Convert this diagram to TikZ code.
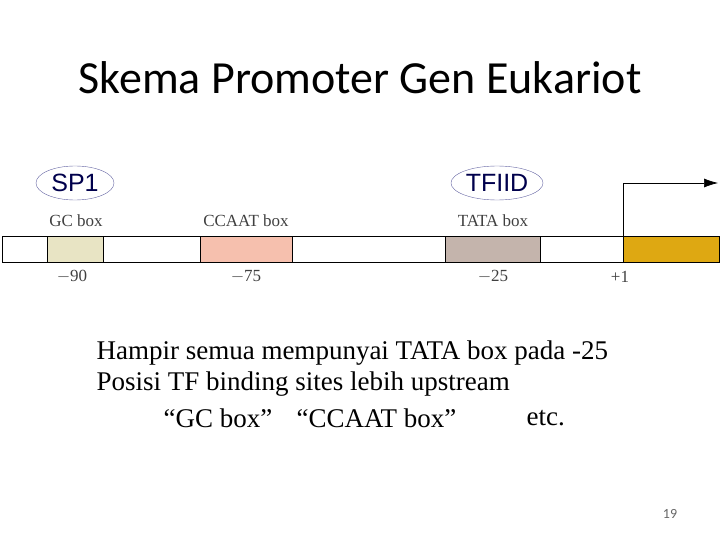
\documentclass[tikz,border=0pt]{standalone}
\usepackage{fontspec}
\usetikzlibrary{shapes.geometric,arrows.meta}
\setmainfont{Liberation Serif}
\newfontfamily\calib{Carlito}
\newfontfamily\arial{Liberation Sans}
\begin{document}
\begin{tikzpicture}[x=1pt,y=-1pt,
  seg/.style={draw=black,line width=0.8pt},
  lbl/.style={font=\fontsize{17}{20}\selectfont\color{black!75}},
  tf/.style={draw=blue!40!black!60,ellipse,inner sep=0pt,font=\arial\fontsize{25}{30}\selectfont\color{blue!30!black}},
  body/.style={anchor=west,font=\fontsize{27}{32}\selectfont}]
\useasboundingbox (0,0) rectangle (720,540);
\node[font=\calib\fontsize{46}{54}\selectfont] (title) at (360,78) {Skema Promoter Gen Eukariot};
\draw[seg,fill=white] (2,236) rectangle (719,262);
\draw[seg,fill={rgb,255:red,232;green,228;blue,196}] (47,236) rectangle (103,262);
\draw[seg,fill={rgb,255:red,246;green,192;blue,174}] (200,236) rectangle (292,262);
\draw[seg,fill={rgb,255:red,196;green,180;blue,172}] (445,236) rectangle (540,262);
\draw[seg,fill={rgb,255:red,222;green,168;blue,18}] (623,236) rectangle (719,262);
\coordinate (s) at (623,236); \coordinate (e) at (718,183);
\draw[line width=0.7pt,-{Latex[length=14pt,width=9pt]}] (s) |- (e);
\node[lbl] (gc) at (76,221) {GC box};
\node[lbl] (cc) at (246,221) {CCAAT box};
\node[lbl] (ta) at (493,221) {TATA box};
\node[lbl] (n1) at (72,277) {$-$90};
\node[lbl] (n2) at (246,277) {$-$75};
\node[lbl] (n3) at (493,277) {$-$25};
\node[lbl] (n4) at (620,277) {+1};
\node[tf,minimum width=78pt,minimum height=34pt] (sp1) at (75,183) {SP1};
\node[tf,minimum width=92pt,minimum height=34pt] (tfiid) at (497,183) {TFIID};
\node[body] (l1) at (93,353) {Hampir semua mempunyai TATA box pada -25};
\node[body] (l2) at (93,384) {Posisi TF binding sites lebih upstream};
\node[body] (l3a) at (160,418) {“GC box”};
\node[body] (l3b) at (293,418) {“CCAAT box”};
\node[body] (l3c) at (523,418) {etc.};
\node[font=\calib\fontsize{14}{16}\selectfont,text=black!60] (pg) at (670,514) {19};
\end{tikzpicture}
\end{document}
